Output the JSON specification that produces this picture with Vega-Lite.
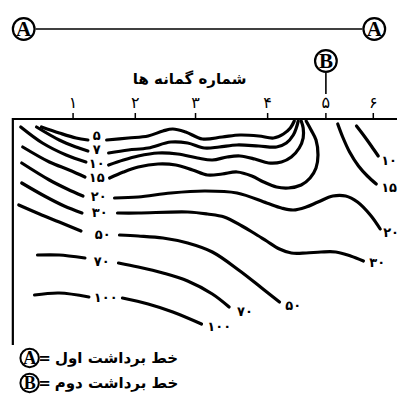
{
  "$schema": "https://vega.github.io/schema/vega-lite/v6.json",
  "width": 402,
  "height": 410,
  "padding": 0,
  "autosize": {"type": "fit", "contains": "padding"},
  "background": "white",
  "config": {"view": {"stroke": null}},
  "datasets": {
    "contours": [
      {"seg": "5L", "level": 5, "i": 0, "x": 42, "depth": 127},
      {"seg": "5L", "level": 5, "i": 1, "x": 60, "depth": 133},
      {"seg": "5L", "level": 5, "i": 2, "x": 77, "depth": 138},
      {"seg": "5L", "level": 5, "i": 3, "x": 89, "depth": 140},
      {"seg": "5R", "level": 5, "i": 0, "x": 108, "depth": 140},
      {"seg": "5R", "level": 5, "i": 1, "x": 130, "depth": 138},
      {"seg": "5R", "level": 5, "i": 2, "x": 150, "depth": 136},
      {"seg": "5R", "level": 5, "i": 3, "x": 165, "depth": 131},
      {"seg": "5R", "level": 5, "i": 4, "x": 175, "depth": 129},
      {"seg": "5R", "level": 5, "i": 5, "x": 188, "depth": 132},
      {"seg": "5R", "level": 5, "i": 6, "x": 205, "depth": 139},
      {"seg": "5R", "level": 5, "i": 7, "x": 225, "depth": 137},
      {"seg": "5R", "level": 5, "i": 8, "x": 243, "depth": 135},
      {"seg": "5R", "level": 5, "i": 9, "x": 262, "depth": 136},
      {"seg": "5R", "level": 5, "i": 10, "x": 277, "depth": 138},
      {"seg": "5R", "level": 5, "i": 11, "x": 287, "depth": 134},
      {"seg": "5R", "level": 5, "i": 12, "x": 294, "depth": 128},
      {"seg": "5R", "level": 5, "i": 13, "x": 298, "depth": 121},
      {"seg": "7L", "level": 7, "i": 0, "x": 37, "depth": 127},
      {"seg": "7L", "level": 7, "i": 1, "x": 60, "depth": 140},
      {"seg": "7L", "level": 7, "i": 2, "x": 77, "depth": 147},
      {"seg": "7L", "level": 7, "i": 3, "x": 89, "depth": 151},
      {"seg": "7R", "level": 7, "i": 0, "x": 110, "depth": 153},
      {"seg": "7R", "level": 7, "i": 1, "x": 130, "depth": 150},
      {"seg": "7R", "level": 7, "i": 2, "x": 150, "depth": 148},
      {"seg": "7R", "level": 7, "i": 3, "x": 173, "depth": 142},
      {"seg": "7R", "level": 7, "i": 4, "x": 190, "depth": 143},
      {"seg": "7R", "level": 7, "i": 5, "x": 207, "depth": 148},
      {"seg": "7R", "level": 7, "i": 6, "x": 222, "depth": 147},
      {"seg": "7R", "level": 7, "i": 7, "x": 240, "depth": 145},
      {"seg": "7R", "level": 7, "i": 8, "x": 262, "depth": 146},
      {"seg": "7R", "level": 7, "i": 9, "x": 280, "depth": 147},
      {"seg": "7R", "level": 7, "i": 10, "x": 290, "depth": 143},
      {"seg": "7R", "level": 7, "i": 11, "x": 297, "depth": 135},
      {"seg": "7R", "level": 7, "i": 12, "x": 300, "depth": 128},
      {"seg": "7R", "level": 7, "i": 13, "x": 302, "depth": 121},
      {"seg": "10L", "level": 10, "i": 0, "x": 21, "depth": 127},
      {"seg": "10L", "level": 10, "i": 1, "x": 43, "depth": 143},
      {"seg": "10L", "level": 10, "i": 2, "x": 67, "depth": 155},
      {"seg": "10L", "level": 10, "i": 3, "x": 87, "depth": 162},
      {"seg": "10R", "level": 10, "i": 0, "x": 110, "depth": 165},
      {"seg": "10R", "level": 10, "i": 1, "x": 125, "depth": 160},
      {"seg": "10R", "level": 10, "i": 2, "x": 140, "depth": 156},
      {"seg": "10R", "level": 10, "i": 3, "x": 160, "depth": 153},
      {"seg": "10R", "level": 10, "i": 4, "x": 180, "depth": 154},
      {"seg": "10R", "level": 10, "i": 5, "x": 200, "depth": 158},
      {"seg": "10R", "level": 10, "i": 6, "x": 215, "depth": 160},
      {"seg": "10R", "level": 10, "i": 7, "x": 230, "depth": 157},
      {"seg": "10R", "level": 10, "i": 8, "x": 243, "depth": 156},
      {"seg": "10R", "level": 10, "i": 9, "x": 258, "depth": 159},
      {"seg": "10R", "level": 10, "i": 10, "x": 272, "depth": 163},
      {"seg": "10R", "level": 10, "i": 11, "x": 285, "depth": 162},
      {"seg": "10R", "level": 10, "i": 12, "x": 295, "depth": 157},
      {"seg": "10R", "level": 10, "i": 13, "x": 303, "depth": 148},
      {"seg": "10R", "level": 10, "i": 14, "x": 307, "depth": 138},
      {"seg": "10R", "level": 10, "i": 15, "x": 307, "depth": 128},
      {"seg": "10R", "level": 10, "i": 16, "x": 305, "depth": 121},
      {"seg": "10E", "level": 10, "i": 0, "x": 361, "depth": 126},
      {"seg": "10E", "level": 10, "i": 1, "x": 368, "depth": 135},
      {"seg": "10E", "level": 10, "i": 2, "x": 376, "depth": 146},
      {"seg": "10E", "level": 10, "i": 3, "x": 383, "depth": 156},
      {"seg": "15L", "level": 15, "i": 0, "x": 23, "depth": 147},
      {"seg": "15L", "level": 15, "i": 1, "x": 50, "depth": 162},
      {"seg": "15L", "level": 15, "i": 2, "x": 70, "depth": 170},
      {"seg": "15L", "level": 15, "i": 3, "x": 86, "depth": 177},
      {"seg": "15R", "level": 15, "i": 0, "x": 111, "depth": 178},
      {"seg": "15R", "level": 15, "i": 1, "x": 125, "depth": 172},
      {"seg": "15R", "level": 15, "i": 2, "x": 140, "depth": 167},
      {"seg": "15R", "level": 15, "i": 3, "x": 160, "depth": 164},
      {"seg": "15R", "level": 15, "i": 4, "x": 178, "depth": 165},
      {"seg": "15R", "level": 15, "i": 5, "x": 195, "depth": 170},
      {"seg": "15R", "level": 15, "i": 6, "x": 210, "depth": 175},
      {"seg": "15R", "level": 15, "i": 7, "x": 225, "depth": 174},
      {"seg": "15R", "level": 15, "i": 8, "x": 240, "depth": 172},
      {"seg": "15R", "level": 15, "i": 9, "x": 255, "depth": 176},
      {"seg": "15R", "level": 15, "i": 10, "x": 267, "depth": 182},
      {"seg": "15R", "level": 15, "i": 11, "x": 280, "depth": 187},
      {"seg": "15R", "level": 15, "i": 12, "x": 292, "depth": 188},
      {"seg": "15R", "level": 15, "i": 13, "x": 305, "depth": 185},
      {"seg": "15R", "level": 15, "i": 14, "x": 314, "depth": 178},
      {"seg": "15R", "level": 15, "i": 15, "x": 320, "depth": 168},
      {"seg": "15R", "level": 15, "i": 16, "x": 322, "depth": 155},
      {"seg": "15R", "level": 15, "i": 17, "x": 320, "depth": 140},
      {"seg": "15R", "level": 15, "i": 18, "x": 315, "depth": 130},
      {"seg": "15R", "level": 15, "i": 19, "x": 310, "depth": 121},
      {"seg": "15E", "level": 15, "i": 0, "x": 342, "depth": 124},
      {"seg": "15E", "level": 15, "i": 1, "x": 347, "depth": 137},
      {"seg": "15E", "level": 15, "i": 2, "x": 354, "depth": 152},
      {"seg": "15E", "level": 15, "i": 3, "x": 363, "depth": 166},
      {"seg": "15E", "level": 15, "i": 4, "x": 372, "depth": 176},
      {"seg": "15E", "level": 15, "i": 5, "x": 381, "depth": 184},
      {"seg": "20L", "level": 20, "i": 0, "x": 22, "depth": 163},
      {"seg": "20L", "level": 20, "i": 1, "x": 50, "depth": 180},
      {"seg": "20L", "level": 20, "i": 2, "x": 68, "depth": 189},
      {"seg": "20L", "level": 20, "i": 3, "x": 84, "depth": 196},
      {"seg": "20R", "level": 20, "i": 0, "x": 116, "depth": 198},
      {"seg": "20R", "level": 20, "i": 1, "x": 140, "depth": 197},
      {"seg": "20R", "level": 20, "i": 2, "x": 173, "depth": 193},
      {"seg": "20R", "level": 20, "i": 3, "x": 207, "depth": 191},
      {"seg": "20R", "level": 20, "i": 4, "x": 240, "depth": 193},
      {"seg": "20R", "level": 20, "i": 5, "x": 270, "depth": 203},
      {"seg": "20R", "level": 20, "i": 6, "x": 285, "depth": 208},
      {"seg": "20R", "level": 20, "i": 7, "x": 297, "depth": 210},
      {"seg": "20R", "level": 20, "i": 8, "x": 310, "depth": 207},
      {"seg": "20R", "level": 20, "i": 9, "x": 322, "depth": 202},
      {"seg": "20R", "level": 20, "i": 10, "x": 337, "depth": 196},
      {"seg": "20R", "level": 20, "i": 11, "x": 350, "depth": 196},
      {"seg": "20R", "level": 20, "i": 12, "x": 362, "depth": 202},
      {"seg": "20R", "level": 20, "i": 13, "x": 375, "depth": 215},
      {"seg": "20R", "level": 20, "i": 14, "x": 385, "depth": 229},
      {"seg": "30L", "level": 30, "i": 0, "x": 22, "depth": 183},
      {"seg": "30L", "level": 30, "i": 1, "x": 45, "depth": 196},
      {"seg": "30L", "level": 30, "i": 2, "x": 65, "depth": 206},
      {"seg": "30L", "level": 30, "i": 3, "x": 83, "depth": 213},
      {"seg": "30R", "level": 30, "i": 0, "x": 119, "depth": 213},
      {"seg": "30R", "level": 30, "i": 1, "x": 140, "depth": 213},
      {"seg": "30R", "level": 30, "i": 2, "x": 190, "depth": 212},
      {"seg": "30R", "level": 30, "i": 3, "x": 210, "depth": 214},
      {"seg": "30R", "level": 30, "i": 4, "x": 227, "depth": 217},
      {"seg": "30R", "level": 30, "i": 5, "x": 245, "depth": 226},
      {"seg": "30R", "level": 30, "i": 6, "x": 257, "depth": 233},
      {"seg": "30R", "level": 30, "i": 7, "x": 270, "depth": 241},
      {"seg": "30R", "level": 30, "i": 8, "x": 283, "depth": 249},
      {"seg": "30R", "level": 30, "i": 9, "x": 295, "depth": 253},
      {"seg": "30R", "level": 30, "i": 10, "x": 310, "depth": 253},
      {"seg": "30R", "level": 30, "i": 11, "x": 325, "depth": 252},
      {"seg": "30R", "level": 30, "i": 12, "x": 340, "depth": 252},
      {"seg": "30R", "level": 30, "i": 13, "x": 355, "depth": 256},
      {"seg": "30R", "level": 30, "i": 14, "x": 368, "depth": 261},
      {"seg": "50L", "level": 50, "i": 0, "x": 19, "depth": 205},
      {"seg": "50L", "level": 50, "i": 1, "x": 40, "depth": 214},
      {"seg": "50L", "level": 50, "i": 2, "x": 60, "depth": 222},
      {"seg": "50L", "level": 50, "i": 3, "x": 82, "depth": 231},
      {"seg": "50R", "level": 50, "i": 0, "x": 121, "depth": 235},
      {"seg": "50R", "level": 50, "i": 1, "x": 140, "depth": 236},
      {"seg": "50R", "level": 50, "i": 2, "x": 165, "depth": 238},
      {"seg": "50R", "level": 50, "i": 3, "x": 190, "depth": 243},
      {"seg": "50R", "level": 50, "i": 4, "x": 215, "depth": 252},
      {"seg": "50R", "level": 50, "i": 5, "x": 243, "depth": 271},
      {"seg": "50R", "level": 50, "i": 6, "x": 265, "depth": 288},
      {"seg": "50R", "level": 50, "i": 7, "x": 283, "depth": 302},
      {"seg": "70L", "level": 70, "i": 0, "x": 38, "depth": 255},
      {"seg": "70L", "level": 70, "i": 1, "x": 60, "depth": 255},
      {"seg": "70L", "level": 70, "i": 2, "x": 86, "depth": 258},
      {"seg": "70R", "level": 70, "i": 0, "x": 120, "depth": 263},
      {"seg": "70R", "level": 70, "i": 1, "x": 140, "depth": 267},
      {"seg": "70R", "level": 70, "i": 2, "x": 165, "depth": 273},
      {"seg": "70R", "level": 70, "i": 3, "x": 190, "depth": 281},
      {"seg": "70R", "level": 70, "i": 4, "x": 215, "depth": 294},
      {"seg": "70R", "level": 70, "i": 5, "x": 232, "depth": 307},
      {"seg": "100L", "level": 100, "i": 0, "x": 35, "depth": 295},
      {"seg": "100L", "level": 100, "i": 1, "x": 60, "depth": 293},
      {"seg": "100L", "level": 100, "i": 2, "x": 90, "depth": 297},
      {"seg": "100R", "level": 100, "i": 0, "x": 124, "depth": 298},
      {"seg": "100R", "level": 100, "i": 1, "x": 150, "depth": 304},
      {"seg": "100R", "level": 100, "i": 2, "x": 175, "depth": 312},
      {"seg": "100R", "level": 100, "i": 3, "x": 204, "depth": 324}
    ],
    "levelLabels": [
      {"text": "۵", "x": 98, "depth": 136},
      {"text": "۷", "x": 98, "depth": 150},
      {"text": "۱۰", "x": 98, "depth": 164},
      {"text": "۱۵", "x": 98, "depth": 178},
      {"text": "۲۰", "x": 100, "depth": 197},
      {"text": "۳۰", "x": 101, "depth": 213},
      {"text": "۵۰", "x": 104, "depth": 235},
      {"text": "۷۰", "x": 103, "depth": 262},
      {"text": "۱۰۰", "x": 107, "depth": 298},
      {"text": "۱۰", "x": 394, "depth": 161},
      {"text": "۱۵", "x": 394, "depth": 188},
      {"text": "۲۰", "x": 396, "depth": 233},
      {"text": "۳۰", "x": 382, "depth": 263},
      {"text": "۵۰", "x": 297, "depth": 306},
      {"text": "۷۰", "x": 248, "depth": 312},
      {"text": "۱۰۰", "x": 222, "depth": 327}
    ],
    "frame": [
      {"i": 0, "x": 402, "depth": 119},
      {"i": 1, "x": 13, "depth": 119},
      {"i": 2, "x": 13, "depth": 345}
    ],
    "boreholes": [
      {"label": "۱", "x": 74, "depth": 113, "depth2": 119},
      {"label": "۲", "x": 137, "depth": 113, "depth2": 119},
      {"label": "۳", "x": 198, "depth": 113, "depth2": 119},
      {"label": "۴", "x": 271, "depth": 113, "depth2": 119},
      {"label": "۵", "x": 330, "depth": 113, "depth2": 119},
      {"label": "۶", "x": 378, "depth": 113, "depth2": 119}
    ],
    "boreholeLabels": [
      {"label": "۱", "x": 74, "depth": 103},
      {"label": "۲", "x": 137, "depth": 103},
      {"label": "۳", "x": 198, "depth": 103},
      {"label": "۴", "x": 271, "depth": 103},
      {"label": "۵", "x": 330, "depth": 103},
      {"label": "۶", "x": 378, "depth": 103}
    ],
    "sections": [
      {"x": 36, "x2": 367, "depth": 29, "depth2": 29},
      {"x": 330, "x2": 330, "depth": 73, "depth2": 94}
    ],
    "markers": [
      {"letter": "A", "x": 24, "depth": 29},
      {"letter": "A", "x": 379, "depth": 29},
      {"letter": "B", "x": 330, "depth": 61}
    ],
    "keyMarkers": [
      {"letter": "A", "x": 30, "depth": 358},
      {"letter": "B", "x": 30, "depth": 383}
    ],
    "notes": [
      {"text": "شماره گمانه ها", "x": 192, "depth": 79},
      {"text": "=", "x": 45, "depth": 358},
      {"text": "=", "x": 45, "depth": 383},
      {"text": "خط برداشت اول", "x": 118, "depth": 358},
      {"text": "خط برداشت دوم", "x": 118, "depth": 383}
    ]
  },
  "encoding": {
    "x": {"field": "x", "type": "quantitative", "axis": null, "scale": {"domain": [0, 402], "nice": false, "zero": false}},
    "y": {"field": "depth", "type": "quantitative", "axis": null, "scale": {"domain": [0, 410], "nice": false, "zero": false, "reverse": true}}
  },
  "layer": [
    {
      "data": {"name": "frame"},
      "mark": {"type": "line", "color": "black", "strokeWidth": 2.2, "interpolate": "linear"},
      "encoding": {"order": {"field": "i", "type": "quantitative"}}
    },
    {
      "data": {"name": "boreholes"},
      "mark": {"type": "rule", "color": "black", "strokeWidth": 1.5},
      "encoding": {"y2": {"field": "depth2"}}
    },
    {
      "data": {"name": "boreholeLabels"},
      "mark": {"type": "text", "font": "DejaVu Sans", "fontSize": 16, "color": "black", "baseline": "middle", "align": "center"},
      "encoding": {"text": {"field": "label", "type": "nominal"}}
    },
    {
      "data": {"name": "contours"},
      "mark": {"type": "line", "color": "black", "strokeWidth": 3.2, "interpolate": "catmull-rom", "strokeCap": "round"},
      "encoding": {
        "detail": {"field": "seg", "type": "nominal"},
        "order": {"field": "i", "type": "quantitative"}
      }
    },
    {
      "data": {"name": "levelLabels"},
      "mark": {"type": "text", "font": "DejaVu Sans", "fontWeight": "bold", "fontSize": 13, "color": "black", "baseline": "middle", "align": "center"},
      "encoding": {"text": {"field": "text", "type": "nominal"}}
    },
    {
      "data": {"name": "sections"},
      "mark": {"type": "rule", "color": "black", "strokeWidth": 1.6},
      "encoding": {
        "x2": {"field": "x2"},
        "y2": {"field": "depth2"}
      }
    },
    {
      "data": {"name": "markers"},
      "mark": {"type": "point", "shape": "circle", "size": 470, "filled": false, "fill": "white", "fillOpacity": 1, "stroke": "black", "strokeWidth": 2.2, "opacity": 1}
    },
    {
      "data": {"name": "markers"},
      "mark": {"type": "text", "font": "Liberation Serif", "fontWeight": "bold", "fontSize": 21, "color": "black", "baseline": "middle", "align": "center", "dy": 1},
      "encoding": {"text": {"field": "letter", "type": "nominal"}}
    },
    {
      "data": {"name": "keyMarkers"},
      "mark": {"type": "point", "shape": "circle", "size": 340, "filled": false, "fill": "white", "fillOpacity": 1, "stroke": "black", "strokeWidth": 2, "opacity": 1}
    },
    {
      "data": {"name": "keyMarkers"},
      "mark": {"type": "text", "font": "Liberation Serif", "fontWeight": "bold", "fontSize": 18, "color": "black", "baseline": "middle", "align": "center", "dy": 1},
      "encoding": {"text": {"field": "letter", "type": "nominal"}}
    },
    {
      "data": {"name": "notes"},
      "mark": {"type": "text", "font": "DejaVu Sans", "fontWeight": "bold", "fontSize": 15, "color": "black", "baseline": "middle", "align": "center"},
      "encoding": {"text": {"field": "text", "type": "nominal"}}
    }
  ]
}
